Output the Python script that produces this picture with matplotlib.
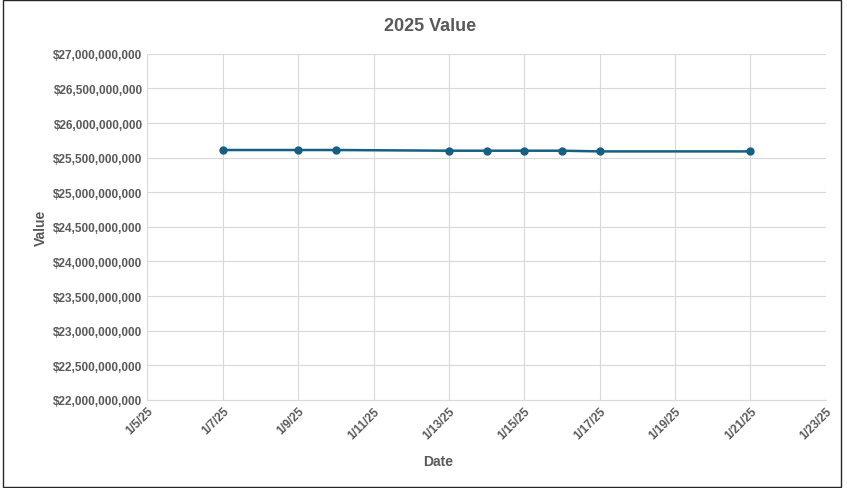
import matplotlib
matplotlib.use('Agg')
import matplotlib.pyplot as plt
import matplotlib.dates as mdates
from matplotlib.ticker import FuncFormatter, MultipleLocator
import pandas as pd

plt.rcParams['font.family'] = ['Liberation Sans', 'DejaVu Sans']

dates = ['2025-01-07', '2025-01-09', '2025-01-10', '2025-01-13', '2025-01-14',
         '2025-01-15', '2025-01-16', '2025-01-17', '2025-01-21']
values = [25610000000, 25610000000, 25610000000, 25600000000, 25600000000,
          25600000000, 25600000000, 25590000000, 25590000000]

x = pd.to_datetime(dates)
text_color = '#595959'
line_color = '#156082'

fig = plt.figure(figsize=(8.47, 4.89), dpi=100)
ax = fig.add_axes([0.174, 0.18, 0.801, 0.708])

ax.plot(x, values, color=line_color, linewidth=1.8, marker='o', markersize=5)

ax.set_xlim(pd.Timestamp('2025-01-05'), pd.Timestamp('2025-01-23'))
ax.set_ylim(22e9, 27e9)
ax.yaxis.set_major_locator(MultipleLocator(0.5e9))
ax.yaxis.set_major_formatter(FuncFormatter(lambda v, p: '${:,.0f}'.format(v)))
ax.xaxis.set_major_locator(mdates.DayLocator(interval=2))
ax.xaxis.set_major_formatter(FuncFormatter(
    lambda v, p: '{d.month}/{d.day}/{y}'.format(d=mdates.num2date(v), y=mdates.num2date(v).strftime('%y'))))

ax.grid(True, color='#d9d9d9', linewidth=0.8)
ax.set_axisbelow(True)
for side in ['top', 'right', 'left']:
    ax.spines[side].set_visible(False)
ax.spines['bottom'].set_color('#d9d9d9')
ax.tick_params(length=0, colors=text_color, labelsize=8.5)
for lbl in ax.get_yticklabels():
    lbl.set_fontweight('bold')
for lbl in ax.get_xticklabels():
    lbl.set_rotation(45)
    lbl.set_ha('right')
    lbl.set_rotation_mode('anchor')
    lbl.set_fontweight('bold')

fig.text(0.508, 0.945, '2025 Value', color=text_color, fontsize=13, fontweight='bold',
         ha='center', va='center')
ax.set_xlabel('Date', color=text_color, fontsize=10, fontweight='bold', labelpad=8)
ax.xaxis.set_label_coords(0.428, -0.155)
ax.set_ylabel('Value', color=text_color, fontsize=10, fontweight='bold', labelpad=4)

fig.patches.append(plt.Rectangle((0.003, 0.003), 0.99, 0.994, transform=fig.transFigure,
                                 fill=False, edgecolor='#262626', linewidth=1))

fig.savefig('out.png', dpi=100)
